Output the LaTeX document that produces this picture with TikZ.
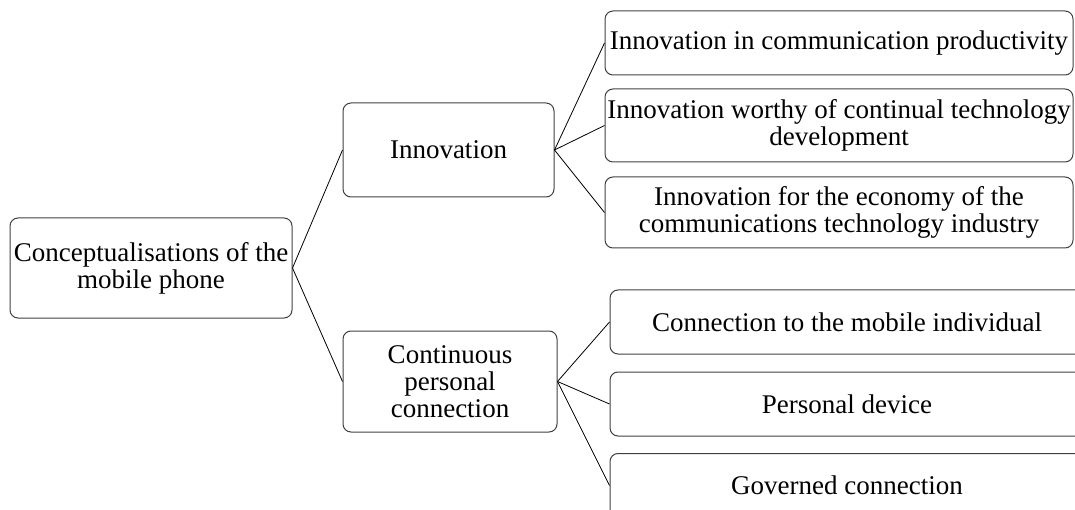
\documentclass[tikz,border=0pt]{standalone}
\usepackage{fontspec}
\setmainfont{Liberation Serif}
\usetikzlibrary{positioning}

\tikzset{box/.style={draw=black!75, line width=1pt, rounded corners=8pt, align=center, inner sep=0pt,
    font=\fontsize{27}{27}\selectfont}}

\begin{document}
\begin{tikzpicture}[x=1pt,y=-1pt,line width=0.8pt]
\useasboundingbox (0,0) rectangle (1075,510);
\node[box, minimum width=282pt, minimum height=100pt] (root) at (151,268) {Conceptualisations of the\\mobile phone};
\node[box, minimum width=211pt, minimum height=94pt] (innov) at (448.5,150) {Innovation};
\node[box, minimum width=214pt, minimum height=101pt] (conn) at (450,381.5) {Continuous\\personal\\connection};
\draw (root.east) -- (innov.west);
\draw (root.east) -- (conn.west);
% leaves of the first branch
\foreach \n/\y/\h/\t in {i1/43/64/{Innovation in communication productivity},
    i2/125.5/73/{Innovation worthy of continual technology\\development},
    i3/212.5/71/{Innovation for the economy of the\\communications technology industry}} {
  \node[box, minimum width=468pt, minimum height=\h pt] (\n) at (839,\y) {\t};
  \draw (innov.east) -- (\n.west);
}
% leaves of the second branch
\foreach \n/\y/\t in {c1/322/{Connection to the mobile individual},
    c2/404/{Personal device}, c3/485.5/{Governed connection}} {
  \node[box, minimum width=474pt, minimum height=64pt] (\n) at (847,\y) {\t};
  \draw (conn.east) -- (\n.west);
}
\end{tikzpicture}
\end{document}
